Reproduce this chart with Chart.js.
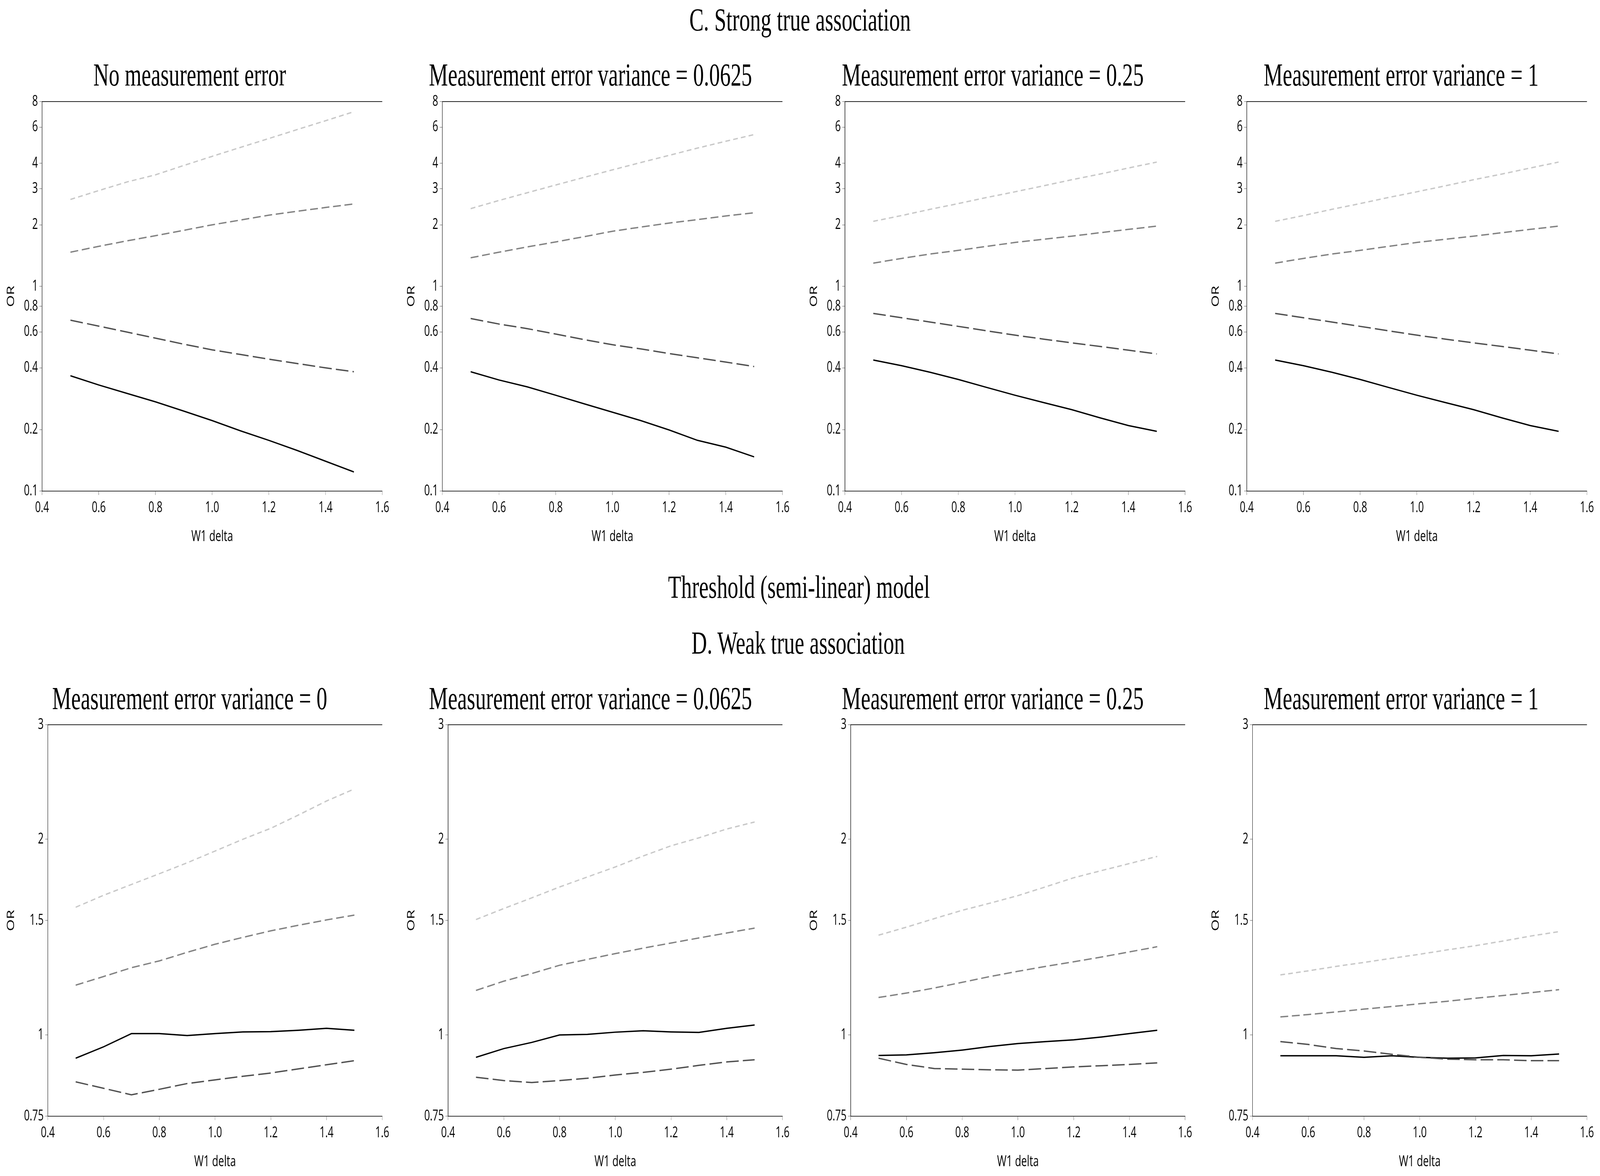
<!DOCTYPE html>
<html><head><meta charset="utf-8">
<script src="https://cdn.jsdelivr.net/npm/chart.js@4.4.1/dist/chart.umd.min.js"></script>
<style>
html,body{margin:0;padding:0;background:#fff;overflow:hidden;width:100%;height:100%}
#stage{position:absolute;left:0;top:0;width:6124px;height:3010px;transform-origin:0 0;background:#fff}
.ttl{position:absolute;font-family:"Liberation Serif","Times New Roman",serif;font-size:82px;line-height:82px;white-space:nowrap;color:#000;transform:translateX(-50%)}
.box{position:absolute}
</style></head><body>
<div id="stage"></div>
<script>
// ---------- DATA ----------
const xValues = [0.5,0.6,0.7,0.8,0.9,1.0,1.1,1.2,1.3,1.4,1.5];
const xTicks = [0.4,0.6,0.8,1.0,1.2,1.4,1.6];
const xTickLabels = ["0.4","0.6","0.8","1.0","1.2","1.4","1.6"];
const strongTicks = [0.1,0.2,0.4,0.6,0.8,1,2,3,4,6,8];
const strongTickLabels = ["0.1","0.2","0.4","0.6","0.8","1","2","3","4","6","8"];
const weakTicks = [0.75,1,1.5,2,3];
const weakTickLabels = ["0.75","1","1.5","2","3"];

const mainTitleC = "C. Strong true association";
const middleTitle = "Threshold (semi-linear) model";
const mainTitleD = "D. Weak true association";
const strongPanelTitles = ["No measurement error","Measurement error variance = 0.0625","Measurement error variance = 0.25","Measurement error variance = 1"];
const weakPanelTitles = ["Measurement error variance = 0","Measurement error variance = 0.0625","Measurement error variance = 0.25","Measurement error variance = 1"];
const xAxisTitle = "W1 delta";
const yAxisTitle = "OR";

// C. Strong true association
const C0_solid = [0.366,0.330,0.300,0.273,0.246,0.221,0.197,0.177,0.158,0.140,0.124];
const C0_long  = [0.684,0.640,0.598,0.559,0.522,0.490,0.465,0.441,0.420,0.400,0.383];
const C0_mid   = [1.47,1.57,1.67,1.77,1.88,2.00,2.11,2.23,2.33,2.43,2.53];
const C0_light = [2.66,2.94,3.24,3.51,3.90,4.32,4.78,5.28,5.84,6.45,7.14];

const C1_solid = [0.383,0.349,0.323,0.294,0.267,0.243,0.221,0.199,0.177,0.164,0.147];
const C1_long  = [0.697,0.655,0.622,0.585,0.550,0.519,0.495,0.470,0.448,0.427,0.406];
const C1_mid   = [1.38,1.47,1.56,1.65,1.75,1.86,1.95,2.04,2.12,2.21,2.29];
const C1_light = [2.40,2.63,2.87,3.13,3.41,3.71,4.03,4.37,4.74,5.12,5.52];

const C2_solid = [0.437,0.410,0.381,0.351,0.321,0.294,0.271,0.250,0.228,0.209,0.196];
const C2_long  = [0.738,0.703,0.670,0.638,0.607,0.578,0.553,0.530,0.509,0.488,0.468];
const C2_mid   = [1.30,1.37,1.44,1.50,1.57,1.64,1.70,1.76,1.83,1.90,1.97];
const C2_light = [2.08,2.22,2.38,2.54,2.72,2.90,3.10,3.32,3.54,3.79,4.05];

const C3_solid = [0.437,0.410,0.381,0.351,0.321,0.294,0.271,0.250,0.228,0.209,0.196];
const C3_long  = [0.738,0.703,0.670,0.638,0.607,0.578,0.553,0.530,0.509,0.488,0.468];
const C3_mid   = [1.30,1.37,1.44,1.50,1.57,1.64,1.70,1.76,1.83,1.90,1.97];
const C3_light = [2.08,2.22,2.38,2.54,2.72,2.90,3.10,3.32,3.54,3.79,4.05];

// D. Weak true association
const D0_solid = [0.921,0.959,1.005,1.005,0.998,1.005,1.011,1.012,1.017,1.024,1.017];
const D0_long  = [0.847,0.828,0.809,0.825,0.842,0.853,0.864,0.874,0.887,0.900,0.913];
const D0_mid   = [1.193,1.230,1.269,1.300,1.340,1.379,1.413,1.446,1.475,1.503,1.529];
const D0_light = [1.572,1.640,1.704,1.770,1.840,1.918,2.000,2.079,2.180,2.290,2.390];

const D1_solid = [0.924,0.953,0.974,1.000,1.002,1.010,1.015,1.011,1.009,1.024,1.036];
const D1_long  = [0.861,0.851,0.845,0.851,0.858,0.868,0.876,0.886,0.898,0.909,0.916];
const D1_mid   = [1.171,1.210,1.243,1.280,1.307,1.334,1.360,1.385,1.410,1.435,1.460];
const D1_light = [1.505,1.565,1.625,1.689,1.750,1.813,1.885,1.954,2.010,2.074,2.126];

const D2_solid = [0.930,0.932,0.939,0.948,0.960,0.970,0.977,0.983,0.993,1.005,1.017];
const D2_long  = [0.921,0.901,0.888,0.886,0.884,0.883,0.888,0.893,0.897,0.901,0.906];
const D2_mid   = [1.142,1.160,1.181,1.205,1.230,1.253,1.275,1.296,1.318,1.342,1.367];
const D2_light = [1.424,1.465,1.510,1.555,1.595,1.638,1.690,1.745,1.790,1.835,1.882];

const D3_solid = [0.929,0.929,0.929,0.924,0.929,0.924,0.921,0.922,0.930,0.929,0.935];
const D3_long  = [0.977,0.967,0.953,0.945,0.934,0.924,0.918,0.916,0.916,0.913,0.913];
const D3_mid   = [1.066,1.075,1.085,1.096,1.106,1.117,1.127,1.139,1.150,1.162,1.174];
const D3_light = [1.237,1.255,1.275,1.293,1.312,1.331,1.352,1.372,1.395,1.420,1.442];

// ---------- STYLE / LAYOUT ----------
const FULL_W = 6124, FULL_H = 3010;
const stage = document.getElementById('stage');
const vw = window.innerWidth || document.documentElement.clientWidth || FULL_W;
const vh = window.innerHeight || document.documentElement.clientHeight || FULL_H;
const sx = vw / FULL_W, sy = vh / FULL_H;
stage.style.transform = 'scale(' + sx + ',' + sy + ')';
const DPR = (window.devicePixelRatio || 1) * Math.max(sx, sy);

const SANS = '"Open Sans","Noto Sans","DejaVu Sans",sans-serif';
const seriesStyle = {
  light: {color:'#c8c8c8', dash:[18,12]},
  mid:   {color:'#828282', dash:[30,14]},
  long:  {color:'#505050', dash:[48,16]},
  solid: {color:'#000000', dash:[]}
};

function addTitle(text, cx, baseline){
  const d = document.createElement('div');
  d.className = 'ttl';
  d.textContent = text;
  d.style.left = cx + 'px';
  d.style.top = (baseline - 69) + 'px';
  stage.appendChild(d);
}

const topLine = {
  id:'topLine',
  afterDraw(chart){
    const {ctx, chartArea:a} = chart;
    ctx.save();
    ctx.strokeStyle = '#222';
    ctx.lineWidth = 2;
    ctx.beginPath();
    ctx.moveTo(a.left, a.top);
    ctx.lineTo(a.right, a.top);
    ctx.stroke();
    ctx.restore();
  }
};

function toPoints(arr){ return xValues.map((x,i)=>({x:x, y:arr[i]})); }

function makePanel(p){
  const PAD_TOP = 34, PAD_RIGHT = 45, XH = 144;
  const left = p.left - p.yW, top = p.top - PAD_TOP;
  const width = p.right + PAD_RIGHT - left;
  const height = p.bottom + XH - top;
  const div = document.createElement('div');
  div.className = 'box';
  div.style.left = left + 'px';
  div.style.top = top + 'px';
  div.style.width = width + 'px';
  div.style.height = height + 'px';
  const cv = document.createElement('canvas');
  div.appendChild(cv);
  stage.appendChild(div);

  const order = ['light','mid','long','solid'];
  const datasets = order.map(k => ({
    label: k,
    data: toPoints(p.series[k]),
    borderColor: seriesStyle[k].color,
    borderDash: seriesStyle[k].dash,
    borderWidth: 3.5,
    pointRadius: 0,
    fill: false,
    tension: 0
  }));

  const gridOpt = {display:true, drawOnChartArea:false, drawTicks:true, tickLength:10, color:'#8a8a8a', lineWidth:1.5};
  new Chart(cv, {
    type:'line',
    data:{datasets},
    plugins:[topLine],
    options:{
      responsive:true,
      maintainAspectRatio:false,
      devicePixelRatio:DPR,
      animation:false,
      layout:{padding:{top:PAD_TOP, right:PAD_RIGHT, left:0, bottom:0}},
      plugins:{legend:{display:false}, tooltip:{enabled:false}, title:{display:false}},
      scales:{
        x:{
          type:'linear', min:0.4, max:1.6,
          afterBuildTicks: s => { s.ticks = xTicks.map(v=>({value:v})); },
          ticks:{callback:(v,i)=>xTickLabels[i], color:'#000', font:{family:SANS,size:38}, padding:10, maxRotation:0, autoSkip:false},
          grid:gridOpt,
          border:{display:true, color:'#333', width:2},
          title:{display:true, text:xAxisTitle, color:'#000', font:{family:SANS,size:39}, padding:{top:0,bottom:4}},
          afterFit: s => { s.height = XH; }
        },
        y:{
          type:'logarithmic', min:p.yMin, max:p.yMax,
          afterBuildTicks: s => { s.ticks = p.yTicks.map(v=>({value:v})); },
          ticks:{callback:(v,i)=>p.yLabels[i], color:'#000', font:{family:SANS,size:38}, padding:6, autoSkip:false},
          grid:gridOpt,
          border:{display:true, color:'#222', width:2},
          title:{display:true, text:yAxisTitle, color:'#000', font:{family:SANS,size:39}, padding:{top:6,bottom:0}},
          afterFit: s => { s.width = p.yW; }
        }
      }
    }
  });
}

// titles
addTitle(mainTitleC, 3062, 79);
addTitle(middleTitle, 3058, 1531);
addTitle(mainTitleD, 3055, 1674);
const subCenters = [726, 2260, 3800, 5363];
strongPanelTitles.forEach((t,i)=>addTitle(t, subCenters[i], 220));
weakPanelTitles.forEach((t,i)=>addTitle(t, subCenters[i], 1816));

// panels
const topLefts = [161,1693,3234,4772];
const botLefts = [183,1715,3256,4794];
const rights = [1463,2995,4536,6074];
const strongSeries = [
  {solid:C0_solid,long:C0_long,mid:C0_mid,light:C0_light},
  {solid:C1_solid,long:C1_long,mid:C1_mid,light:C1_light},
  {solid:C2_solid,long:C2_long,mid:C2_mid,light:C2_light},
  {solid:C3_solid,long:C3_long,mid:C3_mid,light:C3_light}
];
const weakSeries = [
  {solid:D0_solid,long:D0_long,mid:D0_mid,light:D0_light},
  {solid:D1_solid,long:D1_long,mid:D1_mid,light:D1_light},
  {solid:D2_solid,long:D2_long,mid:D2_mid,light:D2_light},
  {solid:D3_solid,long:D3_long,mid:D3_mid,light:D3_light}
];
for (let i=0;i<4;i++){
  makePanel({left:topLefts[i], right:rights[i], top:260, bottom:1257, yW:148,
    yMin:0.1, yMax:8, yTicks:strongTicks, yLabels:strongTickLabels, series:strongSeries[i]});
  makePanel({left:botLefts[i], right:rights[i], top:1855, bottom:2857, yW:170,
    yMin:0.75, yMax:3, yTicks:weakTicks, yLabels:weakTickLabels, series:weakSeries[i]});
}
</script>
</body></html>
